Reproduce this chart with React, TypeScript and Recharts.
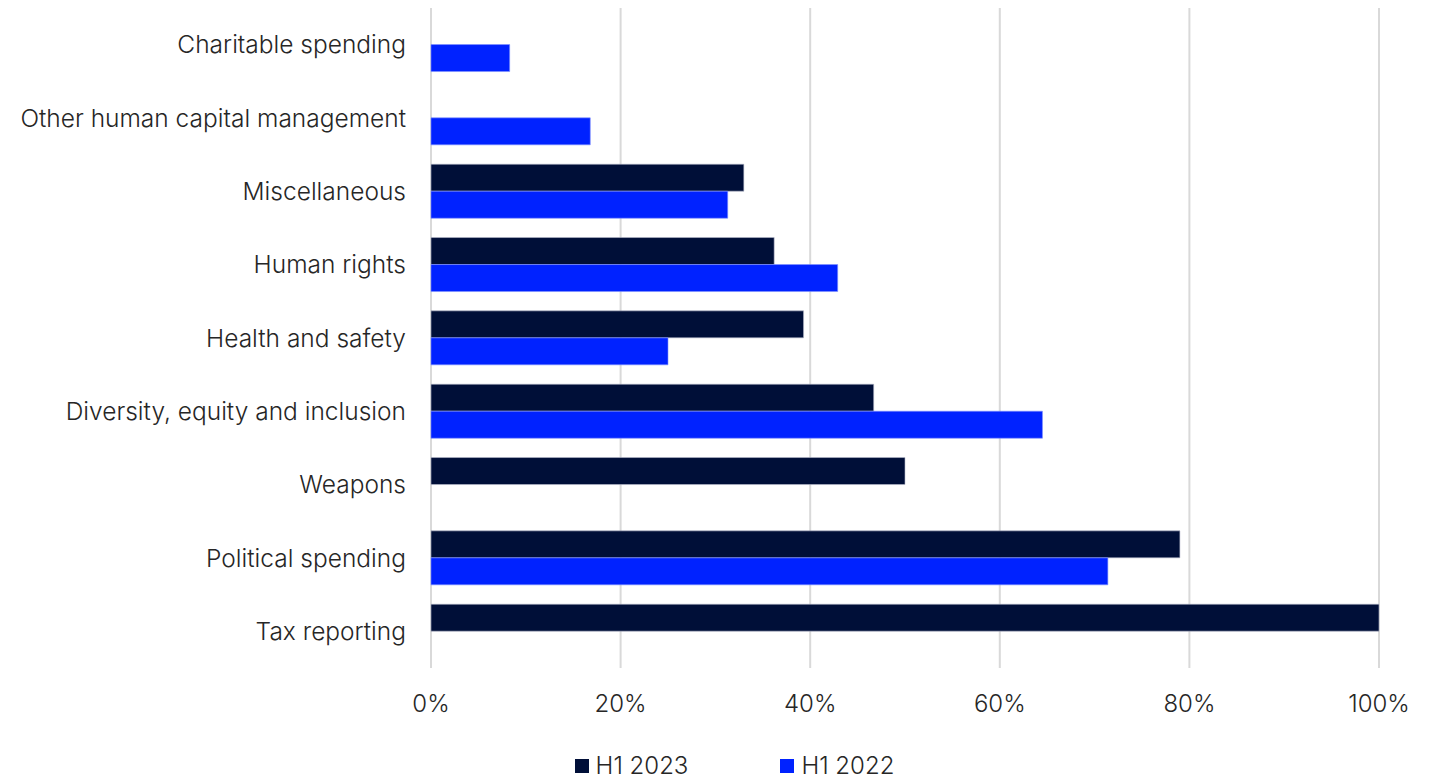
import React from 'react';
import { BarChart, Bar, XAxis, YAxis, CartesianGrid, Legend } from 'recharts';

const categories = [
  'Charitable spending',
  'Other human capital management',
  'Miscellaneous',
  'Human rights',
  'Health and safety',
  'Diversity, equity and inclusion',
  'Weapons',
  'Political spending',
  'Tax reporting',
];
const h12023: (number | null)[] = [null, null, 33.0, 36.2, 39.3, 46.7, 50.0, 79.0, 100];
const h12022: (number | null)[] = [8.3, 16.8, 31.3, 42.9, 25.0, 64.5, null, 71.4, null];
const xTicks = [0, 20, 40, 60, 80, 100];

const seriesNames = ['H1 2023', 'H1 2022'];
const colors = ['#000f38', '#0022ff'];

const data = categories.map((c, i) => ({ name: c, a: h12023[i], b: h12022[i] }));

const FONT = 'Inter, "Noto Sans", sans-serif';

const renderLegend = () => (
  <div style={{ display: 'flex', justifyContent: 'center', gap: 92, fontFamily: FONT, fontWeight: 300, fontSize: 24, color: '#262626', marginLeft: 82, lineHeight: '30px' }}>
    {seriesNames.map((n, i) => (
      <div key={n} style={{ display: 'flex', alignItems: 'center' }}>
        <span style={{ display: 'inline-block', width: 14, height: 14, background: colors[i], marginRight: 7 }} />
        <span>{n}</span>
      </div>
    ))}
  </div>
);

export default function App() {
  return (
    <div style={{ width: 1415, height: 773, background: '#fff' }}>
      <BarChart
        width={1415}
        height={773}
        data={data}
        layout="vertical"
        margin={{ top: 0, right: 44, bottom: 0, left: 0 }}
        barCategoryGap="13%"
        barGap={0}
      >
        <CartesianGrid horizontal={false} vertical={true} stroke="#d9d9d9" strokeWidth={2} />
        <XAxis
          type="number"
          domain={[0, 100]}
          ticks={xTicks}
          tickFormatter={(v: number) => `${v}%`}
          axisLine={false}
          tickLine={false}
          tickMargin={21}
          tick={{ fill: '#262626', fontSize: 24, fontFamily: FONT, fontWeight: 300 }}
          height={83}
        />
        <YAxis
          type="category"
          dataKey="name"
          width={423}
          axisLine={false}
          tickLine={false}
          tickMargin={19}
          tick={{ fill: '#262626', fontSize: 24.5, fontFamily: FONT, fontWeight: 300 }}
          interval={0}
        />
        <Legend verticalAlign="bottom" height={30} wrapperStyle={{ bottom: 0 }} content={renderLegend} />
        <Bar dataKey="a" name={seriesNames[0]} fill={colors[0]} stroke="#b8bccc" strokeWidth={0.6} isAnimationActive={false} />
        <Bar dataKey="b" name={seriesNames[1]} fill={colors[1]} stroke="#8090ff" strokeWidth={0.6} isAnimationActive={false} />
      </BarChart>
    </div>
  );
}
